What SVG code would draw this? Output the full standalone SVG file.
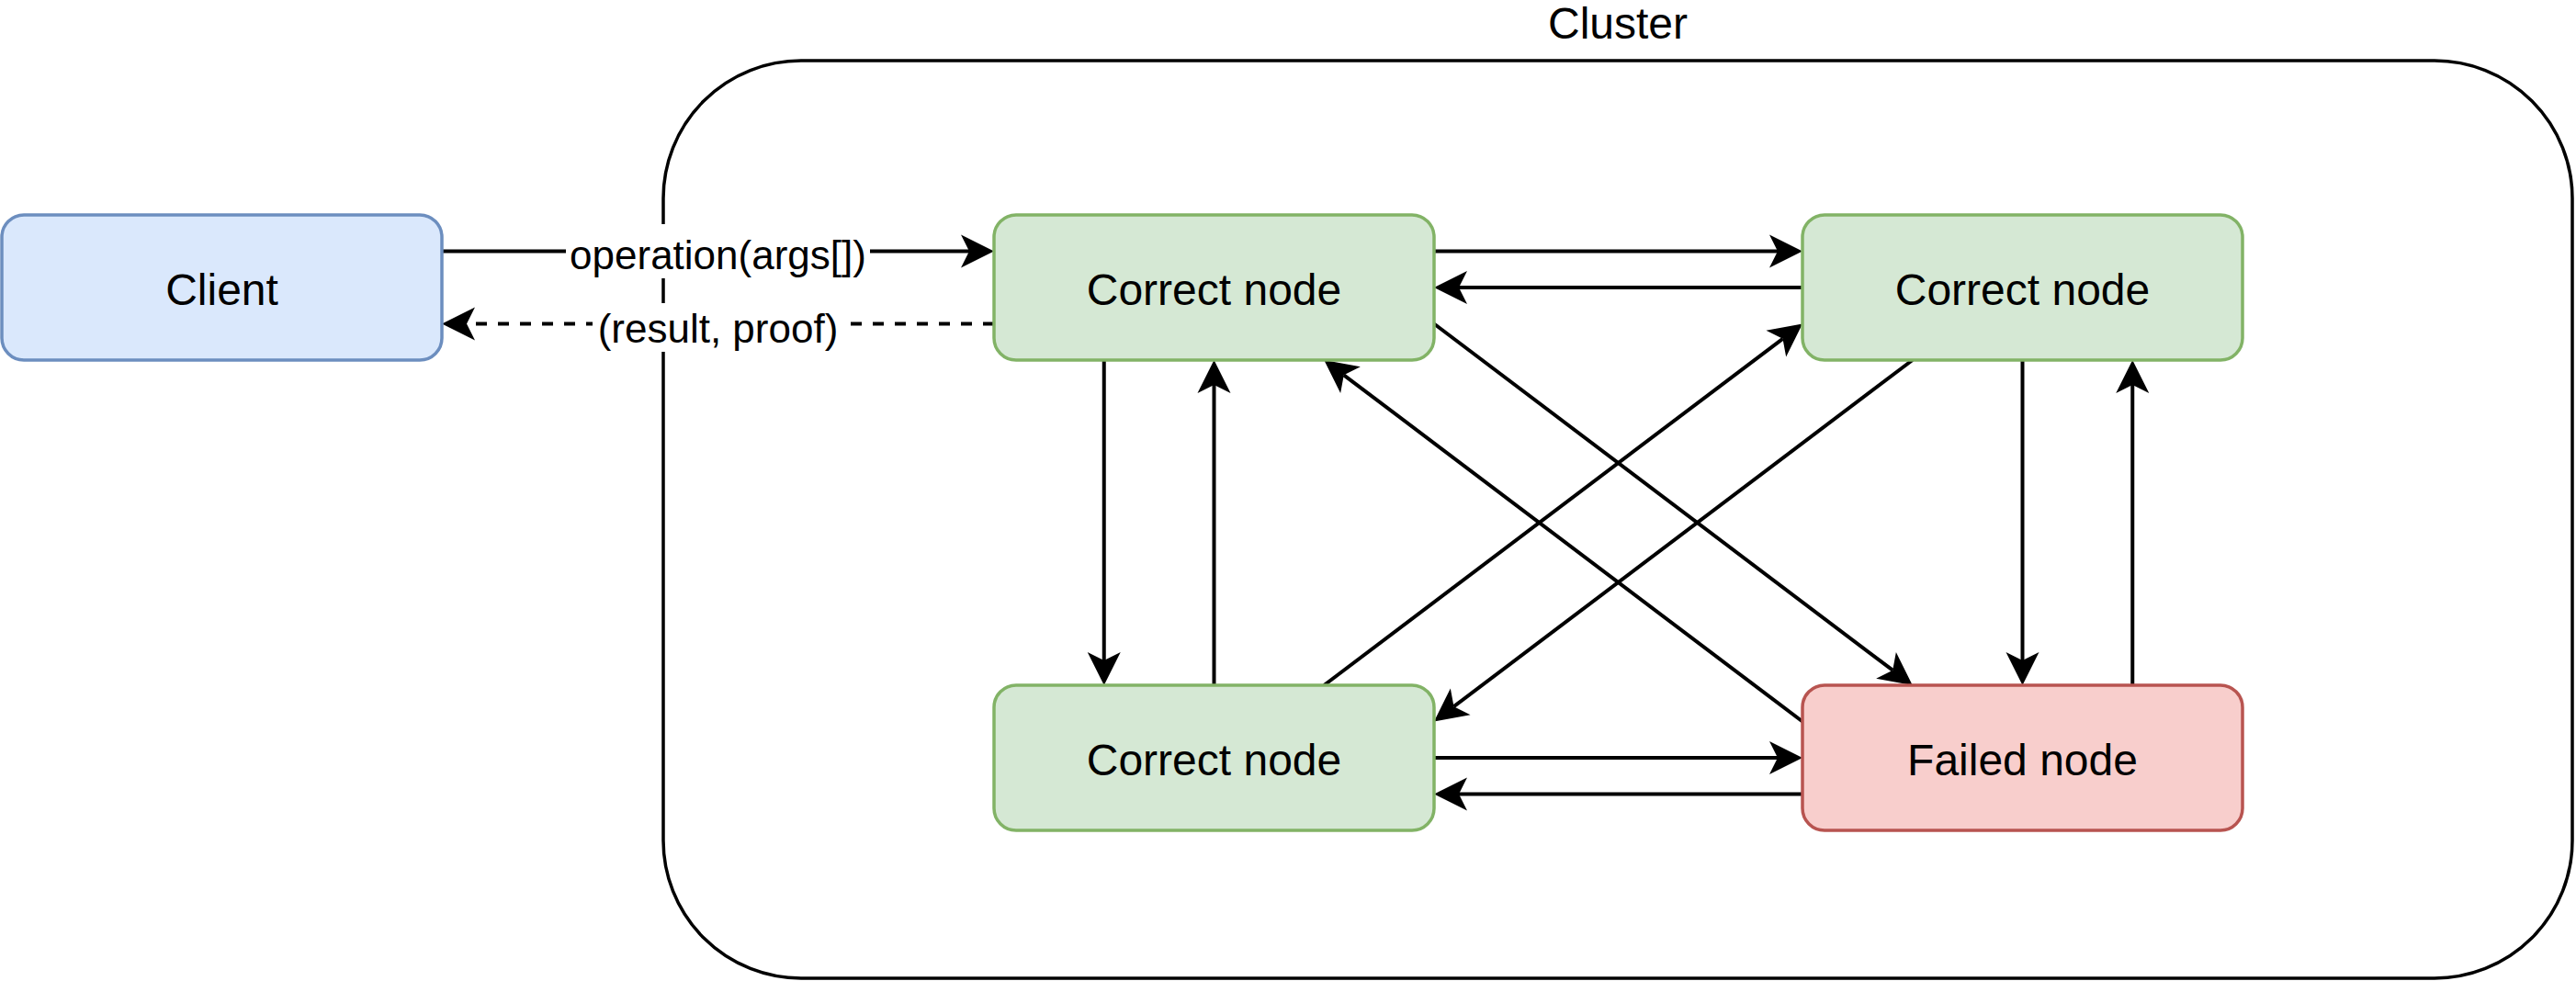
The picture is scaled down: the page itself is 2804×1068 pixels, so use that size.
<svg xmlns="http://www.w3.org/2000/svg" width="2804" height="1068" viewBox="0 0 2804 1068">
  <style>
    .lbl { font-family: "Liberation Sans", Arial, Helvetica, sans-serif; font-size: 48px; fill: #000000; text-anchor: middle; }
    .elbl { font-family: "Liberation Sans", Arial, Helvetica, sans-serif; font-size: 44px; fill: #000000; text-anchor: middle; }
    .box { stroke-width: 3.5; }
    .client { fill: #dae8fc; stroke: #6c8ebf; }
    .ok { fill: #d5e8d4; stroke: #82b366; }
    .failed { fill: #f8cecc; stroke: #b85450; }
    .edge { fill: none; stroke: #000000; stroke-width: 4; marker-end: url(#arrow); }
    .dashed { stroke-dasharray: 12 12; }
  </style>
  <defs>
    <!-- classic arrowhead; the line stops at the notch, the tip sits 27px further on -->
    <marker id="arrow" markerUnits="userSpaceOnUse" markerWidth="80" markerHeight="80" viewBox="-40 -40 80 80" refX="0" refY="0" orient="auto" overflow="visible">
      <path d="M27,0 L-9,-18 L0,0 L-9,18 Z" fill="#000000" stroke="none"/>
    </marker>
  </defs>

  <rect width="2804" height="1068" fill="#ffffff"/>

  <!-- cluster container -->
  <g id="cluster">
    <rect x="722" y="66" width="2078" height="999" rx="150" ry="150" fill="none" stroke="#000000" stroke-width="3.5"/>
    <text class="lbl" x="1761" y="42">Cluster</text>
  </g>

  <!-- connectors -->
  <g id="connectors">
    <!-- client request / response -->
    <path class="edge" d="M481,273.5 L1055,273.5"/>
    <path class="edge dashed" d="M1082,352.5 L508,352.5"/>
    <rect x="616" y="244" width="331" height="59" fill="#ffffff"/>
    <text class="elbl" x="781.5" y="293">operation(args[])</text>
    <rect x="645" y="330" width="273" height="53" fill="#ffffff"/>
    <text class="elbl" x="781.5" y="373">(result, proof)</text>

    <!-- horizontal pairs -->
    <path class="edge" d="M1561,273.5 L1935,273.5"/>
    <path class="edge" d="M1962,313 L1588,313"/>
    <path class="edge" d="M1561,825 L1935,825"/>
    <path class="edge" d="M1962,864.5 L1588,864.5"/>

    <!-- vertical pairs -->
    <path class="edge" d="M1201.75,392 L1201.75,719"/>
    <path class="edge" d="M1321.5,746 L1321.5,419"/>
    <path class="edge" d="M2201.5,392 L2201.5,719"/>
    <path class="edge" d="M2321.25,746 L2321.25,419"/>

    <!-- diagonals -->
    <path class="edge" d="M1561,352.5 L2060.2,729.7"/>
    <path class="edge" d="M1962,785.5 L1462.8,408.3"/>
    <path class="edge" d="M1441.25,746 L1940.5,368.8"/>
    <path class="edge" d="M2081.75,392 L1582.5,769.2"/>
  </g>

  <!-- nodes -->
  <g id="client">
    <rect class="box client" x="2" y="234" width="479" height="158" rx="24" ry="24"/>
    <text class="lbl" x="241.5" y="332">Client</text>
  </g>
  <g id="node-top-left">
    <rect class="box ok" x="1082" y="234" width="479" height="158" rx="24" ry="24"/>
    <text class="lbl" x="1321.5" y="332">Correct node</text>
  </g>
  <g id="node-top-right">
    <rect class="box ok" x="1962" y="234" width="479" height="158" rx="24" ry="24"/>
    <text class="lbl" x="2201.5" y="332">Correct node</text>
  </g>
  <g id="node-bottom-left">
    <rect class="box ok" x="1082" y="746" width="479" height="158" rx="24" ry="24"/>
    <text class="lbl" x="1321.5" y="844">Correct node</text>
  </g>
  <g id="node-bottom-right">
    <rect class="box failed" x="1962" y="746" width="479" height="158" rx="24" ry="24"/>
    <text class="lbl" x="2201.5" y="844">Failed node</text>
  </g>
</svg>
